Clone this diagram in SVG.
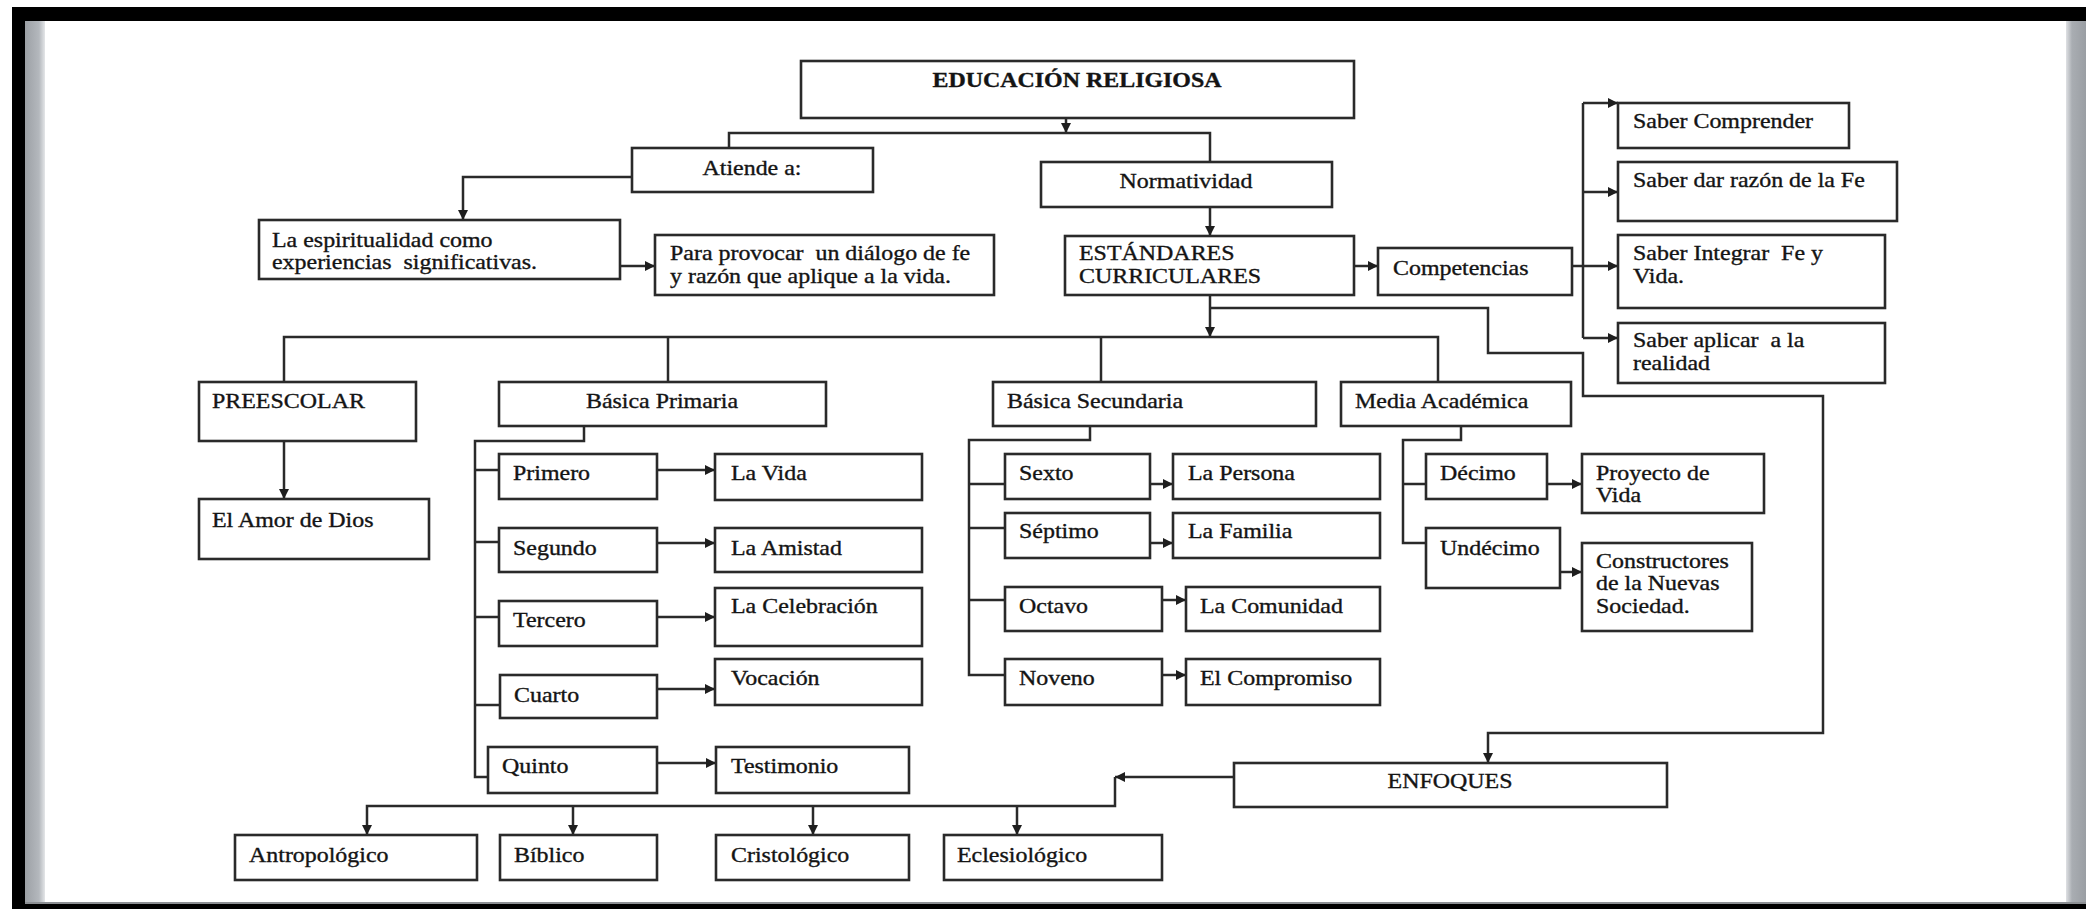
<svg xmlns="http://www.w3.org/2000/svg" width="2086" height="909" viewBox="0 0 2086 909">
<style>
.box{fill:#fff;stroke:#2a2a2a;stroke-width:2.6}
.t{font-family:"Liberation Serif","Times New Roman",serif;font-size:21px;fill:#141414;stroke:#141414;stroke-width:0.35}
.b{font-weight:bold}
.c{text-anchor:middle}
.ln{fill:none;stroke:#2a2a2a;stroke-width:2.5}
.ar{fill:none;stroke:#2a2a2a;stroke-width:2.5;marker-end:url(#ah)}
</style>
<defs>
<marker id="ah" viewBox="0 0 10 10" refX="10" refY="5" markerWidth="10" markerHeight="10" markerUnits="userSpaceOnUse" orient="auto"><path d="M0,0 L10,5 L0,10 z" fill="#1e1e1e"/></marker>
<linearGradient id="gl" x1="0" y1="0" x2="1" y2="0"><stop offset="0" stop-color="#9ca0a5"/><stop offset="0.7" stop-color="#b4b8bd"/><stop offset="1" stop-color="#e4e6e8"/></linearGradient>
<linearGradient id="gr" x1="0" y1="0" x2="1" y2="0"><stop offset="0" stop-color="#dfe1e4"/><stop offset="0.3" stop-color="#a9adb2"/><stop offset="1" stop-color="#9a9ea3"/></linearGradient>
</defs>
<g id="frame">
<rect x="0" y="0" width="2086" height="909" fill="#fff"/>
<rect x="25" y="21" width="20" height="883" fill="url(#gl)"/>
<rect x="2066" y="21" width="20" height="883" fill="url(#gr)"/>
<rect x="12" y="7" width="2074" height="14" fill="#000"/>
<rect x="12" y="7" width="13" height="902" fill="#000"/>
<rect x="25" y="902" width="2061" height="2" fill="#8c8f93"/>
<rect x="12" y="904" width="2074" height="5" fill="#000"/>
</g>
<g id="connectors">
<path class="ar" d="M1066,118 V133"/>
<path class="ln" d="M729,148 V133 H1210 V162"/>
<path class="ar" d="M632,177 H463 V220"/>
<path class="ar" d="M620,266 H655"/>
<path class="ar" d="M1210,207 V236"/>
<path class="ar" d="M1210,295 V337"/>
<path class="ln" d="M284,382 V337 H1438 V382"/>
<path class="ln" d="M668,337 V382"/>
<path class="ln" d="M1101,337 V382"/>
<path class="ar" d="M1354,266 H1378"/>
<path class="ln" d="M1572,266 H1583"/>
<path class="ln" d="M1583,103 V338"/>
<path class="ar" d="M1583,103 H1618"/>
<path class="ar" d="M1583,192 H1618"/>
<path class="ar" d="M1583,266 H1618"/>
<path class="ar" d="M1583,338 H1618"/>
<path class="ar" d="M1210,308 H1488 V353 H1583 V396 H1823 V733 H1488 V763"/>
<path class="ar" d="M284,441 V499"/>
<path class="ln" d="M584,426 V441 H475 V777 H488"/>
<path class="ln" d="M475,470 H499 M475,542 H499 M475,617 H499 M475,705 H500"/>
<path class="ar" d="M657,470 H715"/>
<path class="ar" d="M657,543 H715"/>
<path class="ar" d="M657,617 H715"/>
<path class="ar" d="M657,689 H715"/>
<path class="ar" d="M657,763 H716"/>
<path class="ln" d="M1090,426 V440 H969 V675 H1005"/>
<path class="ln" d="M969,484 H1005 M969,528 H1005 M969,600 H1005"/>
<path class="ar" d="M1150,484 H1173"/>
<path class="ar" d="M1150,543 H1173"/>
<path class="ar" d="M1162,600 H1186"/>
<path class="ar" d="M1162,675 H1186"/>
<path class="ln" d="M1461,426 V440 H1403 V543 H1426 M1403,484 H1426"/>
<path class="ar" d="M1547,484 H1582"/>
<path class="ar" d="M1560,572 H1582"/>
<path class="ar" d="M1234,777 H1115"/>
<path class="ar" d="M1115,777 V806 H367 V835"/>
<path class="ar" d="M573,806 V835"/>
<path class="ar" d="M813,806 V835"/>
<path class="ar" d="M1017,806 V835"/>
</g>
<g id="n-edu"><rect class="box" x="801" y="61" width="553" height="57"/><text class="t b c" transform="translate(1077,87) scale(1.14,1)">EDUCACIÓN RELIGIOSA</text></g>
<g id="n-atiende"><rect class="box" x="632" y="148" width="241" height="44"/><text class="t c" transform="translate(752,175) scale(1.14,1)">Atiende a:</text></g>
<g id="n-normatividad"><rect class="box" x="1041" y="162" width="291" height="45"/><text class="t c" transform="translate(1186,188) scale(1.14,1)">Normatividad</text></g>
<g id="n-espiritualidad"><rect class="box" x="259" y="220" width="361" height="59"/><text class="t" transform="translate(272,247) scale(1.14,1)"><tspan x="0" y="0">La espiritualidad como</tspan><tspan x="0" y="22" xml:space="preserve">experiencias  significativas.</tspan></text></g>
<g id="n-para"><rect class="box" x="655" y="235" width="339" height="60"/><text class="t" transform="translate(670,260) scale(1.14,1)"><tspan x="0" y="0" xml:space="preserve">Para provocar  un diálogo de fe</tspan><tspan x="0" y="23">y razón que aplique a la vida.</tspan></text></g>
<g id="n-estandares"><rect class="box" x="1065" y="236" width="289" height="59"/><text class="t" transform="translate(1079,260) scale(1.14,1)"><tspan x="0" y="0">ESTÁNDARES</tspan><tspan x="0" y="23">CURRICULARES</tspan></text></g>
<g id="n-competencias"><rect class="box" x="1378" y="248" width="194" height="47"/><text class="t" transform="translate(1393,275) scale(1.14,1)">Competencias</text></g>
<g id="n-saber1"><rect class="box" x="1618" y="103" width="231" height="45"/><text class="t" transform="translate(1633,128) scale(1.14,1)">Saber Comprender</text></g>
<g id="n-saber2"><rect class="box" x="1618" y="162" width="279" height="59"/><text class="t" transform="translate(1633,187) scale(1.14,1)">Saber dar razón de la Fe</text></g>
<g id="n-saber3"><rect class="box" x="1618" y="235" width="267" height="73"/><text class="t" transform="translate(1633,260) scale(1.14,1)"><tspan x="0" y="0" xml:space="preserve">Saber Integrar  Fe y</tspan><tspan x="0" y="23">Vida.</tspan></text></g>
<g id="n-saber4"><rect class="box" x="1618" y="323" width="267" height="60"/><text class="t" transform="translate(1633,347) scale(1.14,1)"><tspan x="0" y="0" xml:space="preserve">Saber aplicar  a la</tspan><tspan x="0" y="23">realidad</tspan></text></g>
<g id="n-preescolar"><rect class="box" x="199" y="382" width="217" height="59"/><text class="t" transform="translate(212,408) scale(1.14,1)">PREESCOLAR</text></g>
<g id="n-amor"><rect class="box" x="199" y="499" width="230" height="60"/><text class="t" transform="translate(212,527) scale(1.14,1)">El Amor de Dios</text></g>
<g id="n-primaria"><rect class="box" x="499" y="382" width="327" height="44"/><text class="t c" transform="translate(662,408) scale(1.14,1)">Básica Primaria</text></g>
<g id="n-primero"><rect class="box" x="499" y="454" width="158" height="45"/><text class="t" transform="translate(513,480) scale(1.14,1)">Primero</text></g>
<g id="n-segundo"><rect class="box" x="499" y="528" width="158" height="44"/><text class="t" transform="translate(513,555) scale(1.14,1)">Segundo</text></g>
<g id="n-tercero"><rect class="box" x="499" y="601" width="158" height="45"/><text class="t" transform="translate(513,627) scale(1.14,1)">Tercero</text></g>
<g id="n-cuarto"><rect class="box" x="500" y="675" width="157" height="43"/><text class="t" transform="translate(514,702) scale(1.14,1)">Cuarto</text></g>
<g id="n-quinto"><rect class="box" x="488" y="747" width="169" height="46"/><text class="t" transform="translate(502,773) scale(1.14,1)">Quinto</text></g>
<g id="n-vida"><rect class="box" x="715" y="454" width="207" height="46"/><text class="t" transform="translate(731,480) scale(1.14,1)">La Vida</text></g>
<g id="n-amistad"><rect class="box" x="715" y="528" width="207" height="44"/><text class="t" transform="translate(731,555) scale(1.14,1)">La Amistad</text></g>
<g id="n-celebracion"><rect class="box" x="715" y="588" width="207" height="58"/><text class="t" transform="translate(731,613) scale(1.14,1)">La Celebración</text></g>
<g id="n-vocacion"><rect class="box" x="715" y="659" width="207" height="46"/><text class="t" transform="translate(731,685) scale(1.14,1)">Vocación</text></g>
<g id="n-testimonio"><rect class="box" x="716" y="747" width="193" height="46"/><text class="t" transform="translate(731,773) scale(1.14,1)">Testimonio</text></g>
<g id="n-secundaria"><rect class="box" x="993" y="382" width="323" height="44"/><text class="t" transform="translate(1007,408) scale(1.14,1)">Básica Secundaria</text></g>
<g id="n-sexto"><rect class="box" x="1005" y="454" width="145" height="45"/><text class="t" transform="translate(1019,480) scale(1.14,1)">Sexto</text></g>
<g id="n-septimo"><rect class="box" x="1005" y="513" width="145" height="45"/><text class="t" transform="translate(1019,538) scale(1.14,1)">Séptimo</text></g>
<g id="n-octavo"><rect class="box" x="1005" y="587" width="157" height="44"/><text class="t" transform="translate(1019,613) scale(1.14,1)">Octavo</text></g>
<g id="n-noveno"><rect class="box" x="1005" y="659" width="157" height="46"/><text class="t" transform="translate(1019,685) scale(1.14,1)">Noveno</text></g>
<g id="n-persona"><rect class="box" x="1173" y="454" width="207" height="45"/><text class="t" transform="translate(1188,480) scale(1.14,1)">La Persona</text></g>
<g id="n-familia"><rect class="box" x="1173" y="513" width="207" height="45"/><text class="t" transform="translate(1188,538) scale(1.14,1)">La Familia</text></g>
<g id="n-comunidad"><rect class="box" x="1186" y="587" width="194" height="44"/><text class="t" transform="translate(1200,613) scale(1.14,1)">La Comunidad</text></g>
<g id="n-compromiso"><rect class="box" x="1186" y="659" width="194" height="46"/><text class="t" transform="translate(1200,685) scale(1.14,1)">El Compromiso</text></g>
<g id="n-media"><rect class="box" x="1341" y="382" width="230" height="44"/><text class="t" transform="translate(1355,408) scale(1.14,1)">Media Académica</text></g>
<g id="n-decimo"><rect class="box" x="1426" y="454" width="121" height="45"/><text class="t" transform="translate(1440,480) scale(1.14,1)">Décimo</text></g>
<g id="n-undecimo"><rect class="box" x="1426" y="528" width="134" height="60"/><text class="t" transform="translate(1440,555) scale(1.14,1)">Undécimo</text></g>
<g id="n-proyecto"><rect class="box" x="1582" y="454" width="182" height="59"/><text class="t" transform="translate(1596,480) scale(1.14,1)"><tspan x="0" y="0">Proyecto de</tspan><tspan x="0" y="22">Vida</tspan></text></g>
<g id="n-constructores"><rect class="box" x="1582" y="543" width="170" height="88"/><text class="t" transform="translate(1596,568) scale(1.14,1)"><tspan x="0" y="0">Constructores</tspan><tspan x="0" y="22">de la Nuevas</tspan><tspan x="0" y="45">Sociedad.</tspan></text></g>
<g id="n-enfoques"><rect class="box" x="1234" y="763" width="433" height="44"/><text class="t c" transform="translate(1450,788) scale(1.14,1)">ENFOQUES</text></g>
<g id="n-antropologico"><rect class="box" x="235" y="835" width="242" height="45"/><text class="t" transform="translate(249,862) scale(1.14,1)">Antropológico</text></g>
<g id="n-biblico"><rect class="box" x="500" y="835" width="157" height="45"/><text class="t" transform="translate(514,862) scale(1.14,1)">Bíblico</text></g>
<g id="n-cristologico"><rect class="box" x="716" y="835" width="193" height="45"/><text class="t" transform="translate(731,862) scale(1.14,1)">Cristológico</text></g>
<g id="n-eclesiologico"><rect class="box" x="944" y="835" width="218" height="45"/><text class="t" transform="translate(957,862) scale(1.14,1)">Eclesiológico</text></g>
</svg>
